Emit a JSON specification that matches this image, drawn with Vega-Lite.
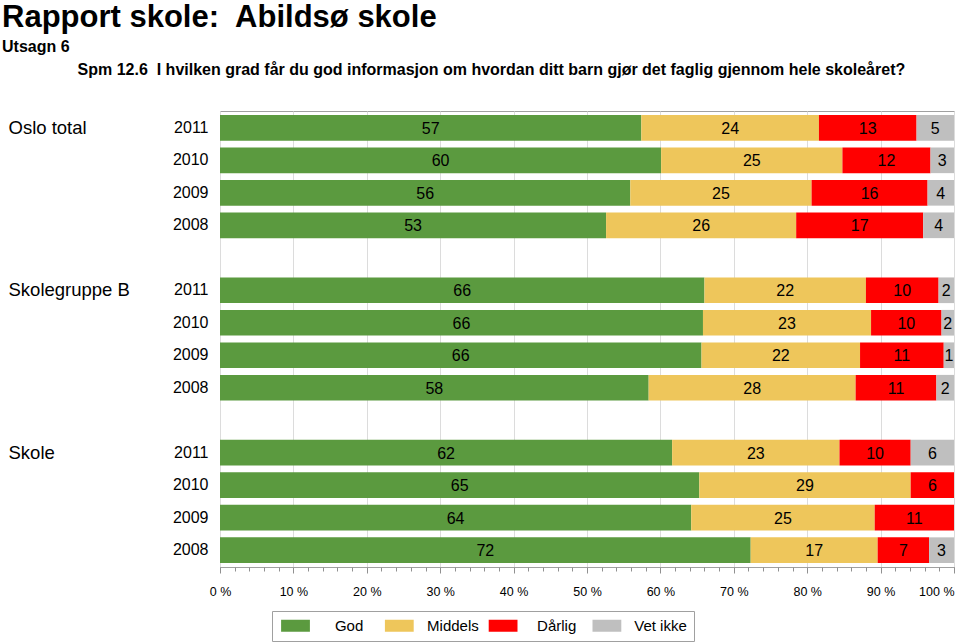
{
  "$schema": "https://vega.github.io/schema/vega-lite/v6.json",
  "width": 734,
  "height": 456,
  "padding": {"left": 2, "top": 2, "right": 0, "bottom": 0},
  "background": "white",
  "config": {
    "font": "Liberation Sans",
    "view": {"stroke": "#a0a0a0", "strokeWidth": 1}
  },
  "title": {
    "text": "Rapport skole:\u00a0 Abildsø skole",
    "subtitle": ["Utsagn 6", "\u200b\u00a0\u00a0\u00a0\u00a0\u00a0\u00a0\u00a0\u00a0\u00a0\u00a0\u00a0\u00a0\u00a0\u00a0\u00a0\u00a0\u00a0Spm 12.6\u00a0 I hvilken grad får du god informasjon om hvordan ditt barn gjør det faglig gjennom hele skoleåret?"],
    "anchor": "start",
    "frame": "bounds",
    "dx": -6,
    "fontSize": 31,
    "fontWeight": "bold",
    "color": "black",
    "subtitleFontSize": 16,
    "subtitleFontWeight": "bold",
    "subtitleColor": "black",
    "subtitleLineHeight": 23.3,
    "subtitlePadding": 5,
    "offset": 31.5
  },
  "data": {
    "values": [
      {"group": "Oslo total", "year": "2011", "category": "God", "value": 57.4},
      {"group": "Oslo total", "year": "2011", "category": "Middels", "value": 24.2},
      {"group": "Oslo total", "year": "2011", "category": "Dårlig", "value": 13.3},
      {"group": "Oslo total", "year": "2011", "category": "Vet ikke", "value": 5.1},
      {"group": "Oslo total", "year": "2010", "category": "God", "value": 60.1},
      {"group": "Oslo total", "year": "2010", "category": "Middels", "value": 24.7},
      {"group": "Oslo total", "year": "2010", "category": "Dårlig", "value": 12.0},
      {"group": "Oslo total", "year": "2010", "category": "Vet ikke", "value": 3.2},
      {"group": "Oslo total", "year": "2009", "category": "God", "value": 55.9},
      {"group": "Oslo total", "year": "2009", "category": "Middels", "value": 24.7},
      {"group": "Oslo total", "year": "2009", "category": "Dårlig", "value": 15.8},
      {"group": "Oslo total", "year": "2009", "category": "Vet ikke", "value": 3.6},
      {"group": "Oslo total", "year": "2008", "category": "God", "value": 52.6},
      {"group": "Oslo total", "year": "2008", "category": "Middels", "value": 25.9},
      {"group": "Oslo total", "year": "2008", "category": "Dårlig", "value": 17.3},
      {"group": "Oslo total", "year": "2008", "category": "Vet ikke", "value": 4.2},
      {"group": "Skolegruppe B", "year": "2011", "category": "God", "value": 66.0},
      {"group": "Skolegruppe B", "year": "2011", "category": "Middels", "value": 22.0},
      {"group": "Skolegruppe B", "year": "2011", "category": "Dårlig", "value": 9.9},
      {"group": "Skolegruppe B", "year": "2011", "category": "Vet ikke", "value": 2.1},
      {"group": "Skolegruppe B", "year": "2010", "category": "God", "value": 65.8},
      {"group": "Skolegruppe B", "year": "2010", "category": "Middels", "value": 22.9},
      {"group": "Skolegruppe B", "year": "2010", "category": "Dårlig", "value": 9.6},
      {"group": "Skolegruppe B", "year": "2010", "category": "Vet ikke", "value": 1.7},
      {"group": "Skolegruppe B", "year": "2009", "category": "God", "value": 65.6},
      {"group": "Skolegruppe B", "year": "2009", "category": "Middels", "value": 21.6},
      {"group": "Skolegruppe B", "year": "2009", "category": "Dårlig", "value": 11.4},
      {"group": "Skolegruppe B", "year": "2009", "category": "Vet ikke", "value": 1.4},
      {"group": "Skolegruppe B", "year": "2008", "category": "God", "value": 58.4},
      {"group": "Skolegruppe B", "year": "2008", "category": "Middels", "value": 28.2},
      {"group": "Skolegruppe B", "year": "2008", "category": "Dårlig", "value": 11.0},
      {"group": "Skolegruppe B", "year": "2008", "category": "Vet ikke", "value": 2.4},
      {"group": "Skole", "year": "2011", "category": "God", "value": 61.6},
      {"group": "Skole", "year": "2011", "category": "Middels", "value": 22.8},
      {"group": "Skole", "year": "2011", "category": "Dårlig", "value": 9.7},
      {"group": "Skole", "year": "2011", "category": "Vet ikke", "value": 5.9},
      {"group": "Skole", "year": "2010", "category": "God", "value": 65.3},
      {"group": "Skole", "year": "2010", "category": "Middels", "value": 28.8},
      {"group": "Skole", "year": "2010", "category": "Dårlig", "value": 5.9},
      {"group": "Skole", "year": "2009", "category": "God", "value": 64.2},
      {"group": "Skole", "year": "2009", "category": "Middels", "value": 25.0},
      {"group": "Skole", "year": "2009", "category": "Dårlig", "value": 10.8},
      {"group": "Skole", "year": "2008", "category": "God", "value": 72.3},
      {"group": "Skole", "year": "2008", "category": "Middels", "value": 17.3},
      {"group": "Skole", "year": "2008", "category": "Dårlig", "value": 7.0},
      {"group": "Skole", "year": "2008", "category": "Vet ikke", "value": 3.4}
    ]
  },
  "transform": [
    {"calculate": "datum.group + '|' + datum.year", "as": "key"},
    {"calculate": "indexof(['God','Middels','Dårlig','Vet ikke'], datum.category)", "as": "ord"},
    {"stack": "value", "groupby": ["key"], "sort": [{"field": "ord", "order": "ascending"}], "as": ["x0", "x1"]},
    {"calculate": "(datum.x0 + datum.x1) / 2", "as": "xm"}
  ],
  "layer": [
    {
      "mark": {"type": "bar"},
      "encoding": {
        "x": {
          "field": "x0", "type": "quantitative",
          "scale": {"domain": [0, 100], "nice": false, "zero": true},
          "axis": {
            "orient": "bottom", "title": null, "domain": false,
            "values": [0, 10, 20, 30, 40, 50, 60, 70, 80, 90, 100],
            "labelExpr": "datum.value + ' %'",
            "labelFontSize": 12.5, "labelColor": "black",
            "labelAlign": {"condition": {"test": "datum.value == 100", "value": "right"}, "value": "center"},
            "labelPadding": 12,
            "ticks": true, "tickSize": 6, "tickColor": "#909090",
            "grid": true, "gridColor": "#dcdcdc", "gridWidth": 1
          }
        },
        "x2": {"field": "x1"},
        "y": {
          "field": "key", "type": "nominal",
          "scale": {
            "domain": ["Oslo total|2011", "Oslo total|2010", "Oslo total|2009", "Oslo total|2008", "gap1",
                       "Skolegruppe B|2011", "Skolegruppe B|2010", "Skolegruppe B|2009", "Skolegruppe B|2008", "gap2",
                       "Skole|2011", "Skole|2010", "Skole|2009", "Skole|2008"],
            "paddingInner": 0.21, "paddingOuter": 0.123
          },
          "axis": {
            "orient": "left", "title": null, "domain": false, "ticks": false, "tickSize": 0, "grid": false,
            "labelExpr": "indexof(datum.value, '|') > 0 ? split(datum.value, '|')[1] : ''",
            "labelFontSize": 16, "labelColor": "black", "labelPadding": 12
          }
        },
        "color": {
          "field": "category", "type": "nominal",
          "scale": {"domain": ["God", "Middels", "Dårlig", "Vet ikke"], "range": ["#5b9a3f", "#eec65b", "#ff0000", "#bfbfbf"]},
          "legend": {
            "title": null, "orient": "none", "direction": "horizontal",
            "legendX": 52, "legendY": 500,
            "symbolType": "M-2.4,-1H2.4V1H-2.4Z", "symbolSize": 144, "symbolStrokeWidth": 0, "symbolOpacity": 1,
            "symbolOffset": 9,
            "labelFontSize": 15, "labelColor": "black", "labelOffset": 46.1, "labelAlign": "center",
            "gridAlign": "all", "columnPadding": 6.8,
            "padding": 7, "strokeColor": "#a0a0a0", "fillColor": "white"
          }
        }
      }
    },
    {
      "mark": {"type": "text", "fontSize": 16, "color": "black", "baseline": "middle", "dy": 1},
      "encoding": {
        "x": {
          "field": "xm", "type": "quantitative",
          "axis": {
            "orient": "bottom", "title": null, "domain": false, "labels": false, "grid": false,
            "values": [0, 2, 4, 6, 8, 10, 12, 14, 16, 18, 20, 22, 24, 26, 28, 30, 32, 34, 36, 38, 40, 42, 44, 46, 48, 50, 52, 54, 56, 58, 60, 62, 64, 66, 68, 70, 72, 74, 76, 78, 80, 82, 84, 86, 88, 90, 92, 94, 96, 98, 100],
            "ticks": true, "tickSize": 4, "tickColor": "#909090"
          }
        },
        "y": {
          "field": "key", "type": "nominal",
          "axis": {
            "orient": "left", "title": null, "domain": false, "ticks": false, "tickSize": 0, "grid": false,
            "labelExpr": "indexof(datum.value, '|2011') > 0 ? split(datum.value, '|')[0] : ''",
            "labelFontSize": 18.5, "labelColor": "black", "labelPadding": 212, "labelAlign": "left"
          }
        },
        "text": {"field": "value", "type": "quantitative", "format": ".0f"}
      }
    }
  ],
  "resolve": {"axis": {"x": "independent", "y": "independent"}}
}
